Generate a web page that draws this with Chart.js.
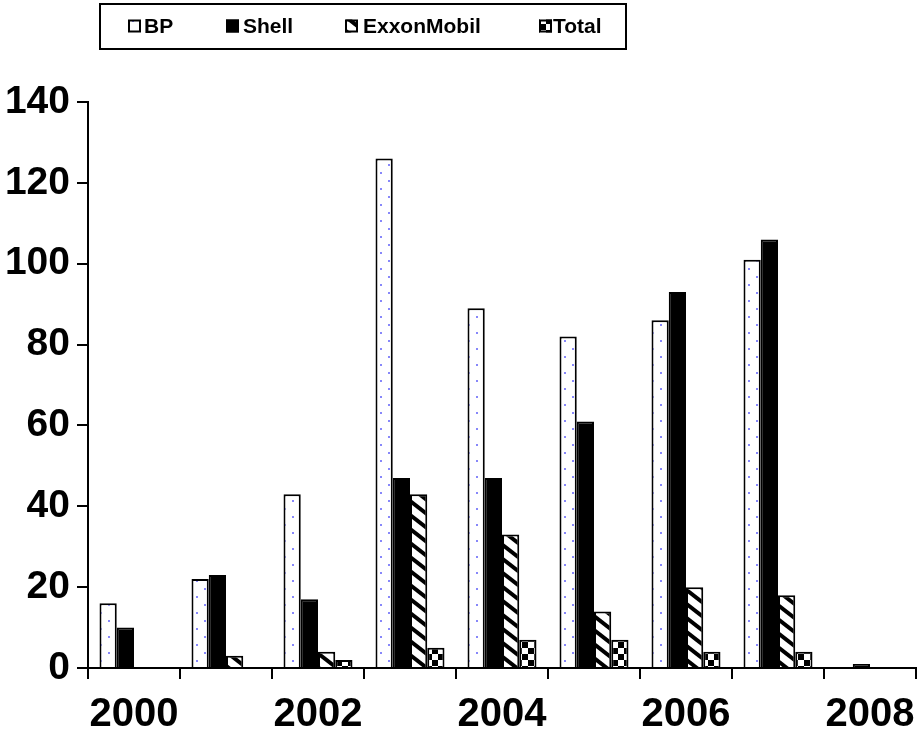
<!DOCTYPE html>
<html>
<head>
<meta charset="utf-8">
<script src="https://cdn.jsdelivr.net/npm/chart.js@4/dist/chart.umd.min.js"></script>
<style>
html,body{margin:0;padding:0;background:#fff;}
#wrap{width:922px;height:733px;position:relative;}
</style>
</head>
<body>
<div id="wrap"><canvas id="c"></canvas></div>
<script>
// ---- data ----
const years = ['2000','2001','2002','2003','2004','2005','2006','2007','2008'];
const seriesNames = ['BP','Shell','ExxonMobil','Total'];
const bpValues    = [16, 22, 43, 126, 89, 82, 86, 101, 0];
const shellValues = [10, 23, 17, 47, 47, 61, 93, 106, 1];
const exxonValues = [0, 3, 4, 43, 33, 14, 20, 18, 0];
const totalValues = [0, 0, 2, 5, 7, 7, 4, 4, 0];
const yTicks = [0, 20, 40, 60, 80, 100, 120, 140];

// ---- patterns ----
function makeTile(w, h, draw) {
  const c = document.createElement('canvas');
  c.width = w; c.height = h;
  const g = c.getContext('2d');
  draw(g, w, h);
  return g.createPattern(c, 'repeat');
}
const dotPattern = makeTile(16, 16, (g, w, h) => {
  g.fillStyle = '#fff'; g.fillRect(0, 0, w, h);
  g.fillStyle = 'rgb(135,135,250)';
  g.fillRect(4, 4, 2, 2);
  g.fillRect(12, 12, 2, 2);
});
const stripePattern = makeTile(18, 14, (g, w, h) => {
  g.fillStyle = '#fff'; g.fillRect(0, 0, w, h);
  g.strokeStyle = '#000'; g.lineWidth = 4; g.lineCap = 'butt';
  for (let k = -1; k <= 1; k++) {
    g.beginPath();
    g.moveTo(-2, k * h - 2 * h / w);
    g.lineTo(w + 2, k * h + h + 2 * h / w);
    g.stroke();
  }
});
const checkPattern = makeTile(12, 12, (g, w, h) => {
  g.fillStyle = '#fff'; g.fillRect(0, 0, w, h);
  g.fillStyle = '#000';
  g.fillRect(0, 0, 6, 6);
  g.fillRect(6, 6, 6, 6);
});
const fills = [dotPattern, '#000', stripePattern, checkPattern];
const valuesList = [bpValues, shellValues, exxonValues, totalValues];

const FONT = '"Liberation Sans", Arial, Helvetica, sans-serif';

// ---- custom legend ----
const legendPlugin = {
  id: 'boxLegend',
  afterDraw(chart) {
    const ctx = chart.ctx;
    ctx.save();
    ctx.strokeStyle = '#000';
    ctx.lineWidth = 2;
    ctx.strokeRect(100, 4, 526, 45);
    const markerX = [128, 226, 345, 539];
    const textX = [144, 243, 363, 553];
    const cy = 26;
    ctx.font = 'bold 21px ' + FONT;
    ctx.textBaseline = 'middle';
    ctx.textAlign = 'left';
    for (let i = 0; i < seriesNames.length; i++) {
      const s = 13;
      ctx.fillStyle = fills[i];
      ctx.fillRect(markerX[i], cy - s / 2, s, s);
      ctx.lineWidth = 2;
      ctx.strokeStyle = '#000';
      ctx.strokeRect(markerX[i] + 1, cy - s / 2 + 1, s - 2, s - 2);
      ctx.fillStyle = '#000';
      ctx.fillText(seriesNames[i], textX[i], cy + 1);
    }
    ctx.restore();
  }
};

new Chart(document.getElementById('c'), {
  type: 'bar',
  data: {
    labels: years,
    datasets: seriesNames.map((n, i) => ({
      label: n,
      data: valuesList[i],
      backgroundColor: fills[i],
      borderColor: '#000',
      borderWidth: 2,
      borderSkipped: 'start',
      categoryPercentage: 0.75,
      barPercentage: 1.0
    }))
  },
  options: {
    responsive: true,
    maintainAspectRatio: false,
    animation: false,
    layout: { padding: { top: 102, right: 6, left: 0, bottom: 0 }, autoPadding: false },
    plugins: { legend: { display: false }, tooltip: { enabled: false } },
    scales: {
      x: {
        type: 'category',
        offset: true,
        grid: { offset: true, drawOnChartArea: false, drawTicks: true, tickLength: 11, color: '#000', lineWidth: 2 },
        border: { display: true, color: '#000', width: 2 },
        ticks: {
          autoSkip: false, maxRotation: 0, minRotation: 0,
          color: '#000', padding: 12,
          font: { family: FONT, size: 40, weight: 'bold' },
          callback: function (v, i) { return i % 2 === 0 ? this.getLabelForValue(v) : ''; }
        },
        afterFit(scale) { scale.height = 65; scale.paddingLeft = 0; scale.paddingRight = 0; }
      },
      y: {
        min: 0, max: 140,
        afterBuildTicks(scale) { scale.ticks = yTicks.map(v => ({ value: v })); },
        grid: { drawOnChartArea: false, drawTicks: true, tickLength: 11, color: '#000', lineWidth: 2 },
        border: { display: true, color: '#000', width: 2 },
        ticks: {
          color: '#000', padding: 7,
          font: { family: FONT, size: 39, weight: 'bold' }
        },
        afterFit(scale) { scale.width = 88; scale.paddingTop = 0; scale.paddingBottom = 0; }
      }
    }
  },
  plugins: [legendPlugin]
});
</script>
</body>
</html>
